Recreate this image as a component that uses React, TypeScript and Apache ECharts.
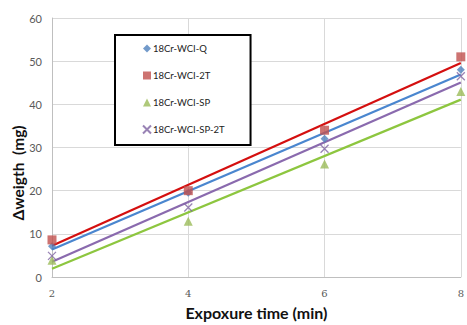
import React, { useEffect, useRef } from "react";
import * as echarts from "echarts";

const xValues = [2, 4, 6, 8];
const seriesNames = ["18Cr-WCI-Q", "18Cr-WCI-2T", "18Cr-WCI-SP", "18Cr-WCI-SP-2T"];
const qValues = [7.1, 19.5, 32, 48];
const t2Values = [8.6, 20, 34, 51];
const spValues = [3.9, 12.9, 26.2, 43];
const sp2tValues = [4.9, 16.1, 29.7, 46.5];
const yTicks = [0, 10, 20, 30, 40, 50, 60];

const markerColors = ["#4F81BD", "#C0504D", "#9BBB59", "#8064A2"];
const lineColors = ["#4A86CF", "#D40F0F", "#8DC63F", "#8A6AAE"];
const symbols = ["diamond", "rect", "triangle", "path://M0,0L10,10M10,0L0,10"];
const symbolSizes = [8, 9, 9, 8];

function fit(xs: number[], ys: number[]) {
  const n = xs.length;
  const mx = xs.reduce((a, b) => a + b, 0) / n;
  const my = ys.reduce((a, b) => a + b, 0) / n;
  let num = 0, den = 0;
  for (let i = 0; i < n; i++) {
    num += (xs[i] - mx) * (ys[i] - my);
    den += (xs[i] - mx) * (xs[i] - mx);
  }
  const s = num / den;
  const b = my - s * mx;
  const x0 = xs[0], x1 = xs[n - 1];
  return [[x0, b + s * x0], [x1, b + s * x1]];
}

export default function App() {
  const ref = useRef<HTMLDivElement>(null);
  useEffect(() => {
    if (!ref.current) return;
    const chart = echarts.init(ref.current, null, { renderer: "svg" });
    const all = [qValues, t2Values, spValues, sp2tValues];
    const font = "Lato, 'Liberation Sans', sans-serif";
    const lineSeries = all.map((vals, i) => ({
      type: "line",
      name: seriesNames[i] + " trend",
      data: fit(xValues, vals),
      symbol: "none",
      lineStyle: { color: lineColors[i], width: 2.2 },
      z: 2,
      silent: true,
    }));
    const scatterSeries = all.map((vals, i) => ({
      type: "scatter",
      name: seriesNames[i],
      data: vals.map((v, j) => [xValues[j], v]),
      symbol: symbols[i],
      symbolSize: symbolSizes[i],
      itemStyle:
        i === 3
          ? { color: "transparent", borderColor: markerColors[i], borderWidth: 1.3 }
          : { color: markerColors[i] },
      z: 3,
    }));
    chart.setOption({
      animation: false,
      backgroundColor: "#ffffff",
      textStyle: { fontFamily: font },
      grid: { left: 52, right: 3, top: 18, bottom: 43 },
      legend: {
        data: seriesNames,
        orient: "vertical",
        left: 115,
        top: 35,
        borderColor: "#000000",
        borderWidth: 2,
        padding: [7, 26, 9, 27],
        itemGap: 14,
        itemWidth: 8,
        itemHeight: 8,
        backgroundColor: "#ffffff",
        textStyle: { fontSize: 9.5, color: "#222", fontFamily: font, lineHeight: 13, padding: [0, 0, 0, -3] },
      },
      xAxis: {
        type: "value",
        min: 2,
        max: 8,
        interval: 2,
        name: "Expoxure time (min)",
        nameLocation: "middle",
        nameGap: 27,
        nameTextStyle: { fontSize: 16, fontWeight: "bold", color: "#111", fontFamily: font },
        axisLine: { show: true, lineStyle: { color: "#BFBFBF", width: 1 } },
        axisTick: { show: false },
        axisLabel: { color: "#595959", fontSize: 10, margin: 11, fontFamily: "'DejaVu Serif', serif" },
        splitLine: { show: true, lineStyle: { color: "#D9D9D9", width: 1 } },
      },
      yAxis: {
        type: "value",
        min: yTicks[0],
        max: yTicks[yTicks.length - 1],
        interval: 10,
        axisLine: { show: true, lineStyle: { color: "#BFBFBF", width: 1 } },
        axisTick: { show: false },
        axisLabel: { color: "#595959", fontSize: 11, margin: 10 },
        splitLine: { show: true, lineStyle: { color: "#D9D9D9", width: 1 } },
      },
      graphic: [
        {
          type: "text",
          x: 18,
          y: 173,
          rotation: Math.PI / 2,
          style: {
            text: "Δweigth  (mg)",
            fontSize: 15.5,
            fontWeight: "bold",
            fontFamily: font,
            fill: "#111",
            textAlign: "center",
            textVerticalAlign: "middle",
          },
        },
      ],
      series: [...lineSeries, ...scatterSeries],
    });
    return () => chart.dispose();
  }, []);
  return (
    <div
      ref={ref}
      style={{ position: "fixed", left: 0, top: 0, width: 467, height: 325 }}
    />
  );
}
